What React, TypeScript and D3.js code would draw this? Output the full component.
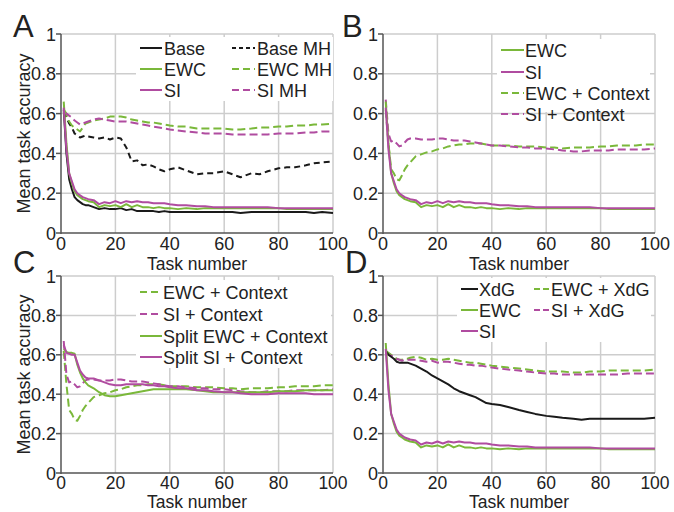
import React from 'react';
import * as d3 from 'd3';

const TASKS = [1, 2, 3, 4, 5, 6, 7, 8, 9, 10, 12, 14, 16, 18, 20, 22, 24, 26, 28, 30, 32, 34, 36, 38, 40, 43, 46, 50, 53, 56, 60, 63, 66, 70, 73, 76, 80, 83, 86, 90, 93, 96, 100];

const BASE = [0.62, 0.40, 0.27, 0.22, 0.18, 0.165, 0.155, 0.145, 0.14, 0.14, 0.13, 0.12, 0.125, 0.12, 0.12, 0.125, 0.115, 0.12, 0.11, 0.11, 0.11, 0.11, 0.105, 0.11, 0.105, 0.105, 0.105, 0.105, 0.105, 0.105, 0.105, 0.105, 0.10, 0.105, 0.105, 0.105, 0.105, 0.105, 0.105, 0.105, 0.10, 0.105, 0.10];
const EWC = [0.66, 0.45, 0.30, 0.25, 0.21, 0.19, 0.18, 0.17, 0.165, 0.16, 0.155, 0.13, 0.14, 0.135, 0.14, 0.13, 0.145, 0.13, 0.14, 0.13, 0.13, 0.125, 0.13, 0.125, 0.125, 0.12, 0.125, 0.12, 0.125, 0.125, 0.125, 0.125, 0.125, 0.125, 0.125, 0.125, 0.125, 0.12, 0.12, 0.12, 0.12, 0.12, 0.12];
const SI = [0.63, 0.42, 0.30, 0.26, 0.22, 0.20, 0.19, 0.18, 0.175, 0.17, 0.165, 0.145, 0.155, 0.15, 0.16, 0.15, 0.16, 0.155, 0.16, 0.155, 0.155, 0.15, 0.15, 0.15, 0.145, 0.14, 0.14, 0.135, 0.135, 0.13, 0.13, 0.13, 0.13, 0.13, 0.13, 0.13, 0.125, 0.125, 0.125, 0.125, 0.125, 0.125, 0.125];
const BASE_MH = [0.61, 0.58, 0.55, 0.53, 0.50, 0.49, 0.48, 0.485, 0.49, 0.485, 0.48, 0.475, 0.48, 0.47, 0.48, 0.475, 0.43, 0.36, 0.365, 0.34, 0.345, 0.335, 0.32, 0.31, 0.32, 0.33, 0.315, 0.295, 0.30, 0.30, 0.31, 0.295, 0.28, 0.30, 0.295, 0.31, 0.325, 0.33, 0.33, 0.34, 0.35, 0.355, 0.36];
const EWC_MH = [0.62, 0.60, 0.56, 0.54, 0.53, 0.52, 0.51, 0.53, 0.55, 0.555, 0.565, 0.57, 0.575, 0.585, 0.585, 0.585, 0.58, 0.57, 0.565, 0.56, 0.555, 0.555, 0.55, 0.545, 0.54, 0.535, 0.535, 0.525, 0.525, 0.525, 0.525, 0.52, 0.52, 0.525, 0.53, 0.53, 0.535, 0.535, 0.54, 0.54, 0.545, 0.545, 0.55];
const SI_MH = [0.60, 0.60, 0.59, 0.58, 0.565, 0.555, 0.545, 0.55, 0.555, 0.56, 0.57, 0.575, 0.57, 0.565, 0.56, 0.56, 0.56, 0.555, 0.55, 0.545, 0.54, 0.535, 0.53, 0.525, 0.52, 0.515, 0.51, 0.505, 0.50, 0.50, 0.50, 0.495, 0.495, 0.495, 0.495, 0.495, 0.50, 0.50, 0.50, 0.505, 0.505, 0.51, 0.51];
const EWC_CTX = [0.62, 0.45, 0.32, 0.30, 0.27, 0.265, 0.29, 0.32, 0.34, 0.355, 0.385, 0.395, 0.405, 0.41, 0.42, 0.425, 0.435, 0.44, 0.445, 0.445, 0.45, 0.45, 0.45, 0.445, 0.44, 0.44, 0.44, 0.435, 0.435, 0.435, 0.43, 0.43, 0.425, 0.43, 0.43, 0.43, 0.435, 0.435, 0.44, 0.44, 0.44, 0.445, 0.445];
const SI_CTX = [0.67, 0.50, 0.46, 0.465, 0.45, 0.435, 0.44, 0.455, 0.47, 0.475, 0.475, 0.47, 0.47, 0.47, 0.475, 0.475, 0.47, 0.465, 0.465, 0.465, 0.46, 0.455, 0.45, 0.445, 0.44, 0.44, 0.435, 0.43, 0.43, 0.425, 0.425, 0.42, 0.415, 0.41, 0.41, 0.415, 0.415, 0.415, 0.42, 0.42, 0.42, 0.42, 0.425];
const SPLIT_EWC_CTX = [0.63, 0.615, 0.61, 0.61, 0.605, 0.55, 0.51, 0.48, 0.46, 0.445, 0.43, 0.41, 0.395, 0.39, 0.39, 0.395, 0.40, 0.405, 0.41, 0.415, 0.42, 0.425, 0.425, 0.425, 0.425, 0.425, 0.425, 0.42, 0.415, 0.41, 0.41, 0.41, 0.41, 0.41, 0.41, 0.41, 0.415, 0.415, 0.415, 0.42, 0.42, 0.42, 0.42];
const SPLIT_SI_CTX = [0.65, 0.61, 0.605, 0.60, 0.60, 0.56, 0.52, 0.50, 0.485, 0.48, 0.48, 0.47, 0.46, 0.45, 0.445, 0.445, 0.45, 0.45, 0.45, 0.45, 0.445, 0.445, 0.44, 0.44, 0.435, 0.43, 0.43, 0.42, 0.42, 0.415, 0.41, 0.41, 0.405, 0.40, 0.40, 0.40, 0.405, 0.405, 0.405, 0.405, 0.40, 0.40, 0.40];
const XDG = [0.62, 0.60, 0.59, 0.58, 0.565, 0.56, 0.56, 0.56, 0.56, 0.555, 0.545, 0.53, 0.515, 0.495, 0.48, 0.465, 0.45, 0.43, 0.415, 0.405, 0.395, 0.385, 0.37, 0.355, 0.35, 0.345, 0.335, 0.32, 0.31, 0.30, 0.29, 0.285, 0.28, 0.275, 0.27, 0.275, 0.275, 0.275, 0.275, 0.275, 0.275, 0.275, 0.28];
const EWC_XDG = [0.62, 0.61, 0.60, 0.59, 0.58, 0.575, 0.575, 0.58, 0.58, 0.585, 0.59, 0.585, 0.575, 0.58, 0.575, 0.575, 0.58, 0.575, 0.57, 0.565, 0.56, 0.56, 0.555, 0.55, 0.545, 0.54, 0.535, 0.53, 0.525, 0.52, 0.515, 0.515, 0.515, 0.51, 0.51, 0.515, 0.515, 0.52, 0.52, 0.52, 0.52, 0.52, 0.525];
const SI_XDG = [0.61, 0.60, 0.595, 0.59, 0.58, 0.575, 0.57, 0.575, 0.575, 0.575, 0.575, 0.57, 0.565, 0.57, 0.56, 0.565, 0.565, 0.56, 0.555, 0.55, 0.55, 0.545, 0.545, 0.54, 0.535, 0.53, 0.525, 0.52, 0.515, 0.51, 0.505, 0.505, 0.50, 0.50, 0.50, 0.50, 0.50, 0.50, 0.50, 0.505, 0.505, 0.505, 0.505];

const X_TICKS = [0, 20, 40, 60, 80, 100];
const Y_TICKS = [0, 0.2, 0.4, 0.6, 0.8, 1];

const GREEN = '#7ab83a';
const PURPLE = '#b04ca0';
const BLACK = '#1a1a1a';
const FONT = '"Liberation Sans", Arial, Helvetica, sans-serif';

type Series = { name: string; values: number[]; color: string; dash?: string };

const s = (name: string, values: number[], color: string, dash?: string): Series => ({ name, values, color, dash });
const DASH = '8,4';
const BDASH = '6,4';

type Panel = {
  letter: string;
  lx: number;
  ly: number;
  left: number;
  right: number;
  top: number;
  bottom: number;
  yTitle: boolean;
  tickDy: number;
  tickSize: number;
  titleDy: number;
  titleSize: number;
  series: Series[];
  legend: { x1: number; x2: number; tx: number; rows: number[]; items: Series[] }[];
  box: [number, number, number, number];
};

const panels: Panel[] = [
  {
    letter: 'A', lx: 13, ly: 37, left: 61, right: 333, top: 34, bottom: 233, yTitle: true,
    tickDy: 17, tickSize: 18, titleDy: 37, titleSize: 17.5,
    series: [s('Base MH', BASE_MH, BLACK, BDASH), s('EWC MH', EWC_MH, GREEN, DASH), s('SI MH', SI_MH, PURPLE, DASH),
      s('Base', BASE, BLACK), s('EWC', EWC, GREEN), s('SI', SI, PURPLE)],
    legend: [
      { x1: 140, x2: 162, tx: 164, rows: [48, 69, 90], items: [s('Base', BASE, BLACK), s('EWC', EWC, GREEN), s('SI', SI, PURPLE)] },
      { x1: 232, x2: 255, tx: 257, rows: [48, 69, 90], items: [s('Base MH', BASE_MH, BLACK, '4,3'), s('EWC MH', EWC_MH, GREEN, '7,4'), s('SI MH', SI_MH, PURPLE, '7,4')] },
    ],
    box: [136, 37, 333, 101],
  },
  {
    letter: 'B', lx: 342, ly: 37, left: 383, right: 655, top: 34, bottom: 233, yTitle: false,
    tickDy: 17, tickSize: 18, titleDy: 37, titleSize: 17.5,
    series: [s('EWC + Context', EWC_CTX, GREEN, DASH), s('SI + Context', SI_CTX, PURPLE, DASH), s('EWC', EWC, GREEN), s('SI', SI, PURPLE)],
    legend: [
      { x1: 501, x2: 524, tx: 525, rows: [50, 72, 93, 114], items: [s('EWC', EWC, GREEN), s('SI', SI, PURPLE), s('EWC + Context', EWC_CTX, GREEN, '7,4'), s('SI + Context', SI_CTX, PURPLE, '7,4')] },
    ],
    box: [497, 39, 650, 112],
  },
  {
    letter: 'C', lx: 13, ly: 273, left: 61, right: 333, top: 276, bottom: 473, yTitle: true,
    tickDy: 15.5, tickSize: 17.5, titleDy: 35.2, titleSize: 17.5,
    series: [s('EWC + Context', EWC_CTX, GREEN, DASH), s('SI + Context', SI_CTX, PURPLE, DASH), s('Split EWC + Context', SPLIT_EWC_CTX, GREEN), s('Split SI + Context', SPLIT_SI_CTX, PURPLE)],
    legend: [
      { x1: 140, x2: 162, tx: 163, rows: [292, 314, 336, 357], items: [s('EWC + Context', EWC_CTX, GREEN, '7,4'), s('SI + Context', SI_CTX, PURPLE, '7,4'), s('Split EWC + Context', SPLIT_EWC_CTX, GREEN), s('Split SI + Context', SPLIT_SI_CTX, PURPLE)] },
    ],
    box: [136, 280, 331, 368],
  },
  {
    letter: 'D', lx: 345, ly: 273, left: 383, right: 655, top: 276, bottom: 473, yTitle: false,
    tickDy: 15.5, tickSize: 17.5, titleDy: 35.2, titleSize: 17.5,
    series: [s('EWC + XdG', EWC_XDG, GREEN, DASH), s('SI + XdG', SI_XDG, PURPLE, DASH), s('XdG', XDG, BLACK), s('EWC', EWC, GREEN), s('SI', SI, PURPLE)],
    legend: [
      { x1: 461, x2: 478, tx: 479, rows: [289, 310, 331], items: [s('XdG', XDG, BLACK), s('EWC', EWC, GREEN), s('SI', SI, PURPLE)] },
      { x1: 534, x2: 549, tx: 551, rows: [289, 310], items: [s('EWC + XdG', EWC_XDG, GREEN, '6,3'), s('SI + XdG', SI_XDG, PURPLE, '6,3')] },
    ],
    box: [457, 278, 651, 342],
  },
];

function ChartPanel({ p }: { p: Panel }) {
  const x = d3.scaleLinear().domain([0, 100]).range([p.left, p.right]);
  const y = d3.scaleLinear().domain([0, 1]).range([p.bottom, p.top]);
  const line = d3.line<number>().x((_, i) => x(TASKS[i])).y((d) => y(d));
  const fmt = (v: number) => (v === 0 || v === 1 ? String(v) : v.toFixed(1));

  return (
    <g>
      {/* grid */}
      {Y_TICKS.filter((t) => t > 0).map((t) => (
        <line key={'gy' + t} x1={x(0)} x2={x(100)} y1={y(t)} y2={y(t)} stroke="#cdcdcd" strokeWidth={1.5} />
      ))}
      {X_TICKS.filter((t) => t > 0).map((t) => (
        <line key={'gx' + t} x1={x(t)} x2={x(t)} y1={y(0)} y2={y(1)} stroke="#cdcdcd" strokeWidth={1.5} />
      ))}

      {/* curves */}
      {p.series.map((d) => (
        <path key={d.name} d={line(d.values) ?? ''} fill="none" stroke={d.color} strokeWidth={2}
          strokeDasharray={d.dash} strokeLinejoin="round" />
      ))}

      {/* legend */}
      <rect x={p.box[0]} y={p.box[1]} width={p.box[2] - p.box[0]} height={p.box[3] - p.box[1]} fill="#fff" />
      {p.legend.map((col, ci) =>
        col.items.map((it, i) => (
          <g key={ci + '-' + it.name}>
            <line x1={col.x1} x2={col.x2} y1={col.rows[i]} y2={col.rows[i]} stroke={it.color} strokeWidth={2}
              strokeDasharray={it.dash} />
            <text x={col.tx} y={col.rows[i] + 6.5} fontSize={18} fill="#222">{it.name}</text>
          </g>
        ))
      )}

      {/* axes */}
      <line x1={x(0)} x2={x(100)} y1={y(0)} y2={y(0)} stroke="#555" strokeWidth={1.5} />
      <line x1={x(0)} x2={x(0)} y1={y(0) + 1} y2={y(1)} stroke="#555" strokeWidth={1.5} />
      {Y_TICKS.map((t) => (
        <g key={'ty' + t}>
          <line x1={x(0) - 5} x2={x(0)} y1={y(t)} y2={y(t)} stroke="#555" strokeWidth={1.5} />
          <text x={x(0) - 5} y={y(t) + 6.5} textAnchor="end" fontSize={18} fill="#222">{fmt(t)}</text>
        </g>
      ))}
      {X_TICKS.map((t) => (
        <text key={'tx' + t} x={x(t)} y={y(0) + p.tickDy} textAnchor="middle" fontSize={p.tickSize} fill="#222">{t}</text>
      ))}
      <text x={(p.left + p.right) / 2} y={p.bottom + p.titleDy} textAnchor="middle" fontSize={p.titleSize} fill="#222">Task number</text>
      {p.yTitle && (
        <text transform={`translate(30,${(p.top + p.bottom) / 2}) rotate(-90)`} textAnchor="middle" fontSize={18} fill="#222">
          Mean task accuracy
        </text>
      )}
      <text x={p.lx} y={p.ly} fontSize={31} fill="#222">{p.letter}</text>
    </g>
  );
}

export default function App() {
  return (
    <svg width={674} height={512} style={{ position: 'absolute', left: 0, top: 0, background: '#fff', fontFamily: FONT }}>
      {panels.map((p) => (
        <ChartPanel key={p.letter} p={p} />
      ))}
    </svg>
  );
}
